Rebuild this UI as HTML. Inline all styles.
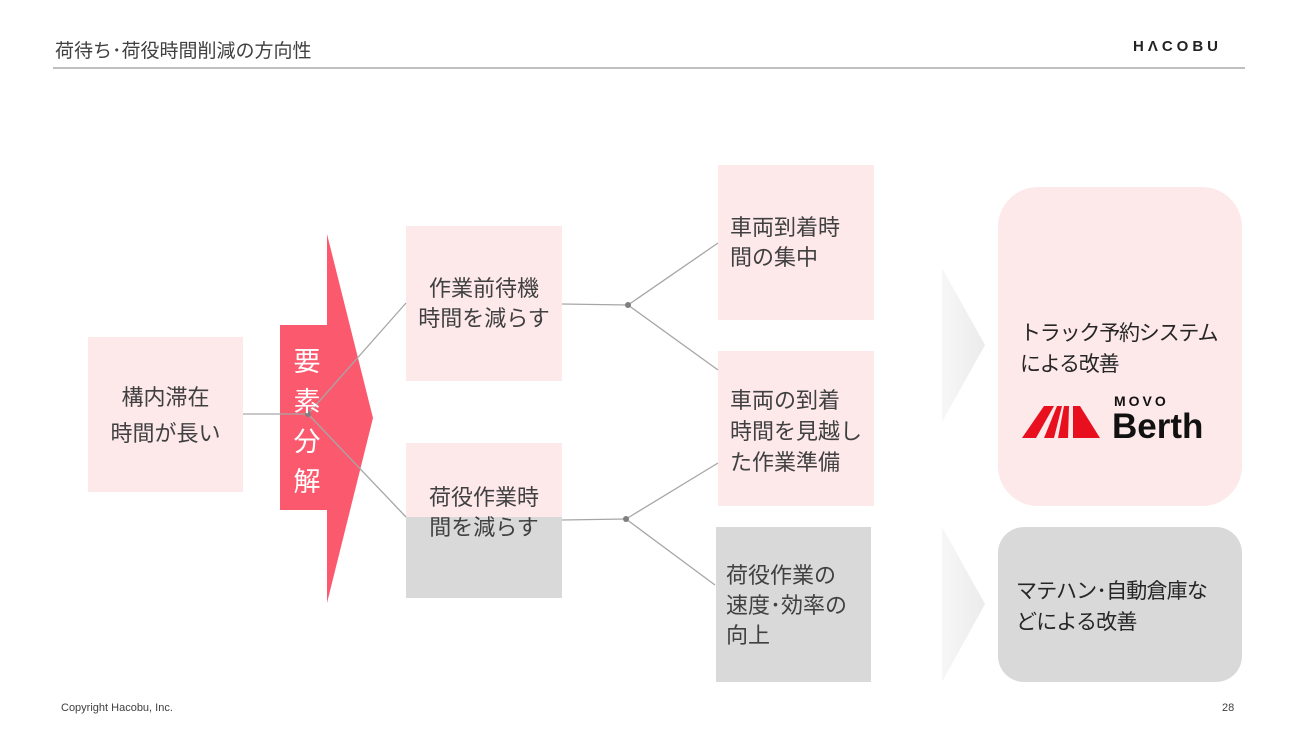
<!DOCTYPE html>
<html><head><meta charset="utf-8"><style>
*{margin:0;padding:0;box-sizing:border-box}
body{width:1299px;height:731px;background:#fff;position:relative;overflow:hidden;font-family:"Liberation Sans","Noto Sans CJK JP",sans-serif;color:#404040}
.a{position:absolute}
.box{position:absolute;font-size:22px;line-height:31px;color:#404040}
.pk{background:#fde8ea}
.gy{background:#d9d9d9}
</style></head><body>
<div class="a" style="left:55px;top:36px;font-size:19px;color:#404040">荷待ち･荷役時間削減の方向性</div>
<div class="a" style="left:1133px;top:38px;font-size:15px;font-weight:bold;letter-spacing:4px;color:#222">HΛCOBU</div>
<div class="a" style="left:53px;top:67px;width:1192px;height:2px;background:#bfbfbf"></div>

<div class="box pk" style="left:88px;top:337px;width:155px;height:155px;text-align:center;padding-top:43px;line-height:36px">構内滞在<br>時間が長い</div>
<div class="box pk" style="left:406px;top:226px;width:156px;height:155px;text-align:center;padding-top:48px;line-height:30px">作業前待機<br>時間を減らす</div>
<div class="box pk" style="left:406px;top:443px;width:156px;height:75px"></div>
<div class="box gy" style="left:406px;top:517px;width:156px;height:81px"></div>
<div class="box" style="left:406px;top:483px;width:156px;text-align:center;line-height:30px">荷役作業時<br>間を減らす</div>

<div class="box pk" style="left:718px;top:165px;width:156px;height:155px;padding:48px 0 0 12px;line-height:30px">車両到着時<br>間の集中</div>
<div class="box pk" style="left:718px;top:351px;width:156px;height:155px;padding:34px 0 0 12px;line-height:31px">車両の到着<br>時間を見越し<br>た作業準備</div>
<div class="box gy" style="left:716px;top:527px;width:155px;height:155px;padding:34px 0 0 10px;line-height:30px">荷役作業の<br>速度･効率の<br>向上</div>

<div class="a" style="left:998px;top:187px;width:244px;height:319px;border-radius:40px;background:#fde8ea"></div>
<div class="a" style="left:998px;top:527px;width:244px;height:155px;border-radius:26px;background:#d9d9d9"></div>

<svg class="a" style="left:0;top:0" width="1299" height="731">
<defs><linearGradient id="g" x1="0" x2="1"><stop offset="0" stop-color="#f7f7f7"/><stop offset="1" stop-color="#ebebeb"/></linearGradient></defs>
<polygon points="280,325 327,325 327,234 373,418 327,603 327,510 280,510" fill="#fb5a6e"/>
<polygon points="942,268 985,345 942,422" fill="url(#g)"/>
<polygon points="942,527 985,604 942,682" fill="url(#g)"/>
<g stroke="#a6a6a6" stroke-width="1.3" fill="none">
<line x1="243" y1="414" x2="308" y2="414"/>
<line x1="308" y1="414" x2="406" y2="303"/>
<line x1="308" y1="414" x2="406" y2="517"/>
<line x1="562" y1="304" x2="628" y2="305"/>
<line x1="628" y1="305" x2="718" y2="243"/>
<line x1="628" y1="305" x2="718" y2="370"/>
<line x1="562" y1="520" x2="626" y2="519"/>
<line x1="626" y1="519" x2="718" y2="463"/>
<line x1="626" y1="519" x2="715" y2="585"/>
</g>
<g fill="#7f7f7f"><circle cx="308" cy="414" r="3"/><circle cx="628" cy="305" r="3"/><circle cx="626" cy="519" r="3"/></g>
<g fill="#e8101e">
<polygon points="1022,438 1044,406 1054,406 1036,438"/>
<polygon points="1044,438 1057,406 1062,406 1054,438"/>
<polygon points="1058,438 1064,406 1069,406 1068,438"/>
<polygon points="1073,438 1073,406 1080,406 1100,438"/>
</g>
</svg>
<div class="a" style="left:292px;top:342px;font-size:27px;line-height:40px;color:#fff;width:30px;text-align:center">要<br>素<br>分<br>解</div>

<div class="box" style="left:1020px;top:318px;font-size:21px;letter-spacing:-1.2px;line-height:31px;color:#262626">トラック予約システム<br>による改善</div>
<div class="a" style="left:1114px;top:393px;font-size:14px;font-weight:bold;letter-spacing:3px;color:#111">MOVO</div>
<div class="a" style="left:1112px;top:408px;font-size:35px;font-weight:bold;color:#111;line-height:38px">Berth</div>

<div class="box" style="left:1016px;top:576px;font-size:21px;letter-spacing:-0.8px;line-height:31px;color:#262626">マテハン･自動倉庫な<br>どによる改善</div>

<div class="a" style="left:61px;top:702px;font-size:11px;color:#404040">Copyright Hacobu, Inc.</div>
<div class="a" style="left:1222px;top:702px;font-size:11px;color:#404040">28</div>
</body></html>
